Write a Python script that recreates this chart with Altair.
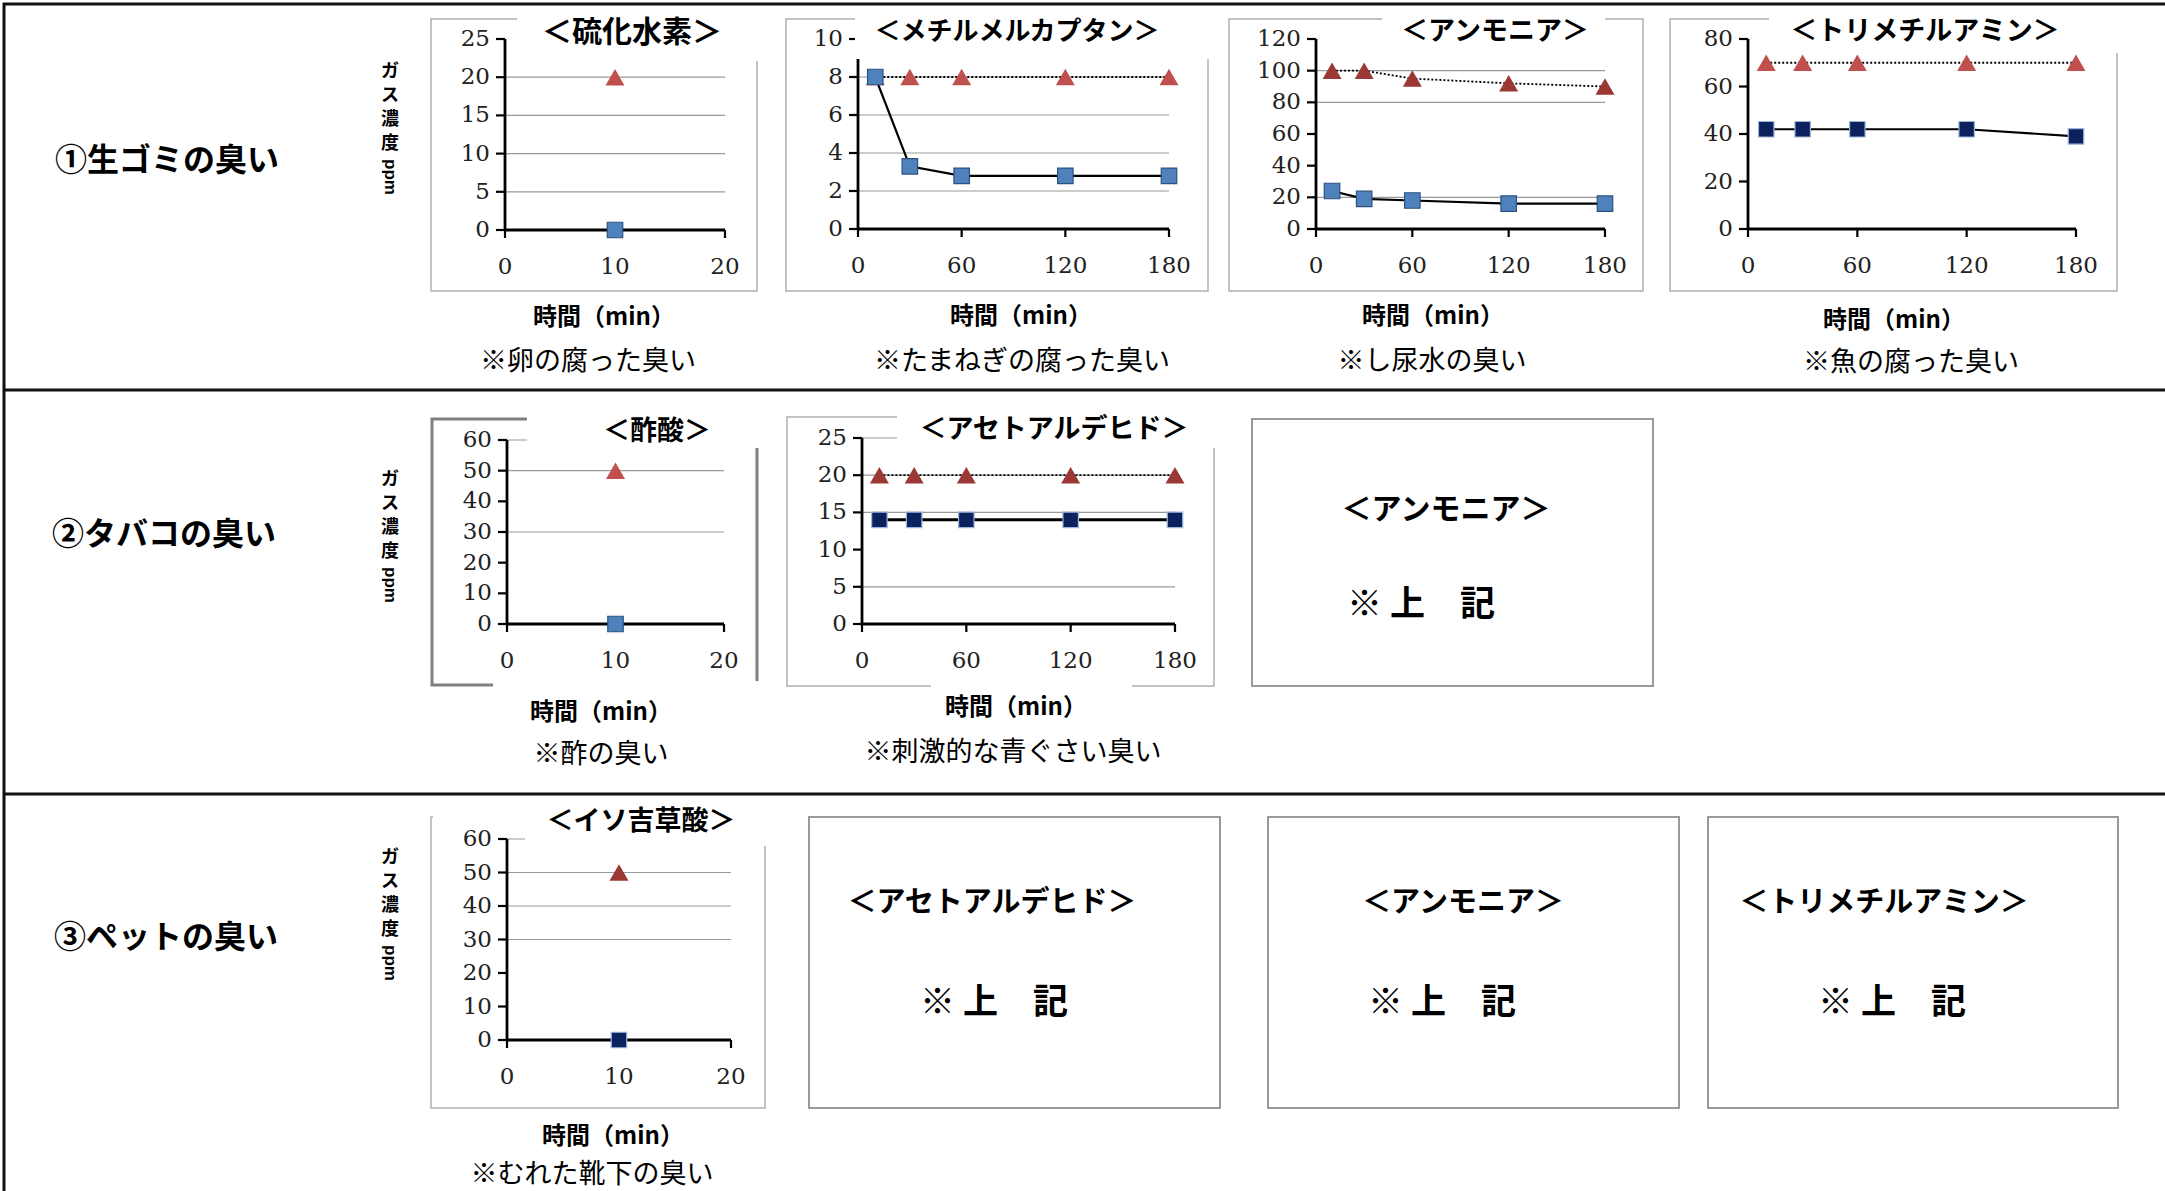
import altair as alt
import pandas as pd

# ---------------- data ----------------
TIMES = [10, 30, 60, 120, 180]
TIME_SINGLE = [10]

h2s_tri = [20]
h2s_sq = [0]
mm_tri = [8, 8, 8, 8, 8]
mm_sq = [8, 3.3, 2.8, 2.8, 2.8]
nh3_tri = [100, 100, 95, 92, 90]
nh3_sq = [24, 19, 18, 16, 16]
tma_tri = [70, 70, 70, 70, 70]
tma_sq = [42, 42, 42, 42, 39]
aa_tri = [50]
aa_sq = [0]
ald_tri = [20, 20, 20, 20, 20]
ald_sq = [14, 14, 14, 14, 14]
iva_tri = [50]
iva_sq = [0]

XT_SHORT = [0, 10, 20]
XT_LONG = [0, 60, 120, 180]
YT_H2S = [0, 5, 10, 15, 20, 25]
YT_MM = [0, 2, 4, 6, 8, 10]
YT_NH3 = [0, 20, 40, 60, 80, 100, 120]
YT_TMA = [0, 20, 40, 60, 80]
YT_60 = [0, 10, 20, 30, 40, 50, 60]
YT_ALD = [0, 5, 10, 15, 20, 25]

GRID_H2S = [5, 10, 15, 20]
GRID_MM = [2, 4, 6, 8]
GRID_NH3 = [20, 80, 100]
GRID_TMA = []
GRID_AA = [30, 50, 60]
GRID_ALD = [5, 15, 20, 25]
GRID_IVA = [30, 40, 50, 60]

ROW_LABELS = ["①生ゴミの臭い", "②タバコの臭い", "③ペットの臭い"]
Y_TITLE_CHARS = ["ガ", "ス", "濃", "度"]
Y_TITLE_UNIT = "ppm"
X_TITLE = "時間（min）"
REF_NOTE = "※ 上　記"

# ---------------- styles ----------------
JP = "Noto Sans CJK JP"
SERIF = "DejaVu Serif"
RED = "#C0504D"
DARKRED = "#9B3833"
BLUE = "#4F81BD"
BLUE_EDGE = "#2C5281"
NAVY = "#0C225F"
NAVY_EDGE = "#9DB6D8"
GRID_C = "#9a9a9a"

ONE = pd.DataFrame({"d": [0]})


def panel(times, tri, sq, xmax, xt, ymax, yt, grid, L, tri_color, sq_fill, sq_edge, sq_line=2.2):
    xs = alt.Scale(domain=[0, xmax], range=[L[0], L[1]], nice=False, zero=False)
    ys = alt.Scale(domain=[0, ymax], range=[L[2], L[3]], nice=False, zero=False)

    def xf(f):
        return alt.X(f, type="quantitative", scale=xs, axis=None)

    def yf(f):
        return alt.Y(f, type="quantitative", scale=ys, axis=None)

    x0 = alt.X(datum=0, type="quantitative", scale=xs, axis=None)
    y0 = alt.Y(datum=0, type="quantitative", scale=ys, axis=None)
    layers = []
    if grid:
        layers.append(
            alt.Chart(pd.DataFrame({"g": grid}))
            .mark_rule(color=GRID_C, strokeWidth=1.2)
            .encode(y=yf("g"), x=x0, x2=alt.X2(datum=xmax))
        )
    ytdf = pd.DataFrame({"v": yt, "lab": [str(v) for v in yt]})
    xtdf = pd.DataFrame({"v": xt, "lab": [str(v) for v in xt]})
    layers.append(
        alt.Chart(ytdf)
        .mark_rule(color="black", strokeWidth=2.2, xOffset=-9)
        .encode(y=yf("v"), x=x0, x2=alt.X2(datum=0))
    )
    layers.append(
        alt.Chart(xtdf)
        .mark_rule(color="black", strokeWidth=2.2, y2Offset=8)
        .encode(x=xf("v"), y=y0, y2=alt.Y2(datum=0))
    )
    layers.append(
        alt.Chart(ONE)
        .mark_rule(color="black", strokeWidth=2.8)
        .encode(x=x0, y=y0, y2=alt.Y2(datum=ymax))
    )
    layers.append(
        alt.Chart(ONE)
        .mark_rule(color="black", strokeWidth=2.8)
        .encode(y=y0, x=x0, x2=alt.X2(datum=xmax))
    )
    layers.append(
        alt.Chart(ytdf)
        .mark_text(font=SERIF, fontSize=23, align="right", baseline="middle", dx=-15, color="#222")
        .encode(y=yf("v"), x=x0, text="lab:N")
    )
    layers.append(
        alt.Chart(xtdf)
        .mark_text(font=SERIF, fontSize=23, align="center", baseline="middle", dy=37, color="#222")
        .encode(x=xf("v"), y=y0, text="lab:N")
    )
    df = pd.DataFrame({"t": times, "a": tri, "b": sq})
    if len(times) > 1:
        layers.append(
            alt.Chart(df)
            .mark_line(color="black", strokeWidth=1.8, strokeDash=[2, 2])
            .encode(x=xf("t"), y=yf("a"))
        )
        layers.append(
            alt.Chart(df)
            .mark_line(color="black", strokeWidth=sq_line)
            .encode(x=xf("t"), y=yf("b"))
        )
    layers.append(
        alt.Chart(df)
        .mark_point(shape="triangle-up", filled=True, color=tri_color, size=360, opacity=1)
        .encode(x=xf("t"), y=yf("a"))
    )
    layers.append(
        alt.Chart(df)
        .mark_point(shape="square", filled=True, fill=sq_fill, stroke=sq_edge,
                    strokeWidth=1.2, size=240, opacity=1)
        .encode(x=xf("t"), y=yf("b"))
    )
    return alt.layer(*layers)


def text_at(s, x, y, size, bold=False, align="center", font=JP, baseline="middle", angle=0):
    kw = dict(text=s, font=font, fontSize=size, align=align, baseline=baseline,
              fontWeight="bold" if bold else "normal", color="black")
    if angle:
        kw["angle"] = angle
    return alt.Chart(ONE).mark_text(**kw).encode(x=alt.value(x), y=alt.value(y))


def box(x0, y0, x1, y1, stroke=None, width=1.5, fill=False):
    if fill:
        m = alt.Chart(ONE).mark_rect(fill="white", opacity=1)
    else:
        m = alt.Chart(ONE).mark_rect(fill="white", fillOpacity=0, stroke=stroke, strokeWidth=width)
    return m.encode(x=alt.value(x0), x2=alt.value(x1), y=alt.value(y0), y2=alt.value(y1))


def hline(x0, x1, y, w=3):
    return alt.Chart(ONE).mark_rule(color="#111", strokeWidth=w).encode(
        x=alt.value(x0), x2=alt.value(x1), y=alt.value(y))


def vline(x, y0, y1, w=3):
    return alt.Chart(ONE).mark_rule(color="#111", strokeWidth=w).encode(
        x=alt.value(x), y=alt.value(y0), y2=alt.value(y1))


layers = []
# outer table lines
layers += [hline(3, 2165, 4), vline(4, 3, 1191), hline(3, 2165, 390), hline(3, 2165, 794)]

# chart frames
FR = "#b0b0b0"
layers += [
    box(431, 19, 757, 291, FR, 1.5), box(786, 19, 1208, 291, FR, 1.5),
    box(1229, 19, 1643, 291, FR, 1.5), box(1670, 19, 2117, 291, FR, 1.5),
    box(432, 419, 757, 685, "#808080", 3), box(787, 417, 1214, 686, FR, 1.5),
    box(431, 817, 765, 1108, FR, 1.5),
]
# reference text boxes
TB = "#9a9a9a"
layers += [
    box(1252, 419, 1653, 686, TB, 2),
    box(809, 817, 1220, 1108, TB, 2), box(1268, 817, 1679, 1108, TB, 2),
    box(1708, 817, 2118, 1108, TB, 2),
]

# panels
layers += [
    panel(TIME_SINGLE, h2s_tri, h2s_sq, 20, XT_SHORT, 25, YT_H2S, GRID_H2S,
          (505, 725, 230, 39), RED, BLUE, BLUE_EDGE),
    panel(TIMES, mm_tri, mm_sq, 180, XT_LONG, 10, YT_MM, GRID_MM,
          (858, 1169, 229, 39), RED, BLUE, BLUE_EDGE),
    panel(TIMES, nh3_tri, nh3_sq, 180, XT_LONG, 120, YT_NH3, GRID_NH3,
          (1316, 1605, 229, 39), DARKRED, BLUE, BLUE_EDGE),
    panel(TIMES, tma_tri, tma_sq, 180, XT_LONG, 80, YT_TMA, GRID_TMA,
          (1748, 2076, 229, 39), RED, NAVY, NAVY_EDGE),
    panel(TIME_SINGLE, aa_tri, aa_sq, 20, XT_SHORT, 60, YT_60, GRID_AA,
          (507, 724, 624, 440), RED, BLUE, BLUE_EDGE),
    panel(TIMES, ald_tri, ald_sq, 180, XT_LONG, 25, YT_ALD, GRID_ALD,
          (862, 1175, 624, 438), DARKRED, NAVY, NAVY_EDGE, sq_line=3),
    panel(TIME_SINGLE, iva_tri, iva_sq, 20, XT_SHORT, 60, YT_60, GRID_IVA,
          (507, 731, 1040, 839), DARKRED, NAVY, NAVY_EDGE),
]

# white title / label backgrounds covering parts of frames
layers += [
    box(517, 12, 766, 61, fill=True), box(855, 12, 1216, 59, fill=True),
    box(1382, 12, 1605, 55, fill=True), box(1769, 12, 2126, 53, fill=True),
    box(527, 410, 766, 448, fill=True), box(493, 681, 766, 740, fill=True),
    box(897, 409, 1221, 448, fill=True), box(931, 680, 1132, 735, fill=True),
    box(525, 806, 772, 846, fill=True), box(433, 813, 525, 821, fill=True),
]

# row labels
layers += [
    text_at(ROW_LABELS[0], 55, 161, 32, bold=True, align="left"),
    text_at(ROW_LABELS[1], 52, 535, 32, bold=True, align="left"),
    text_at(ROW_LABELS[2], 54, 938, 32, bold=True, align="left"),
]

# vertical y titles (one character per line, unit rotated)
for ytop in (60, 468, 846):
    for i, ch in enumerate(Y_TITLE_CHARS):
        layers.append(text_at(ch, 390, ytop + 12 + 24 * i, 18, bold=True))
    layers.append(text_at(Y_TITLE_UNIT, 390, ytop + 99, 17, bold=True, align="left",
                          font="Liberation Sans", angle=90))

# chart titles
TITLES = [
    ("＜硫化水素＞", 632, 33, 30), ("＜メチルメルカプタン＞", 1017, 32, 26),
    ("＜アンモニア＞", 1495, 32, 27), ("＜トリメチルアミン＞", 1925, 32, 27),
    ("＜酢酸＞", 657, 432, 27), ("＜アセトアルデヒド＞", 1054, 430, 27),
    ("＜イソ吉草酸＞", 641, 822, 27),
]
for s, x, y, fs in TITLES:
    layers.append(text_at(s, x, y, fs, bold=True))

# x axis titles
for x, y in [(604, 318), (1021, 317), (1433, 317), (1894, 321), (601, 713), (1016, 708), (613, 1137)]:
    layers.append(text_at(X_TITLE, x, y, 24, bold=True))

# captions
CAPTIONS = [
    ("※卵の腐った臭い", 588, 362), ("※たまねぎの腐った臭い", 1022, 362),
    ("※し尿水の臭い", 1432, 362), ("※魚の腐った臭い", 1911, 363),
    ("※酢の臭い", 601, 755), ("※刺激的な青ぐさい臭い", 1013, 753),
    ("※むれた靴下の臭い", 592, 1175),
]
for s, x, y in CAPTIONS:
    layers.append(text_at(s, x, y, 27))

# reference boxes text
BOX_TEXT = [
    ("＜アンモニア＞", 1446, 510, 30, 1421, 605),
    ("＜アセトアルデヒド＞", 992, 903, 29, 994, 1003),
    ("＜アンモニア＞", 1463, 903, 29, 1442, 1003),
    ("＜トリメチルアミン＞", 1884, 903, 29, 1892, 1003),
]
for s, x, y, fs, nx, ny in BOX_TEXT:
    layers.append(text_at(s, x, y, fs, bold=True))
    layers.append(text_at(REF_NOTE, nx, ny, 35, bold=True))

chart = (
    alt.layer(*layers)
    .resolve_scale(x="independent", y="independent")
    .properties(width=2165, height=1191, padding=0,
                autosize=alt.AutoSizeParams(type="none"), background="white")
    .configure_view(stroke=None)
)

chart.save("out.html", embed_options={"renderer": "svg", "actions": False})
